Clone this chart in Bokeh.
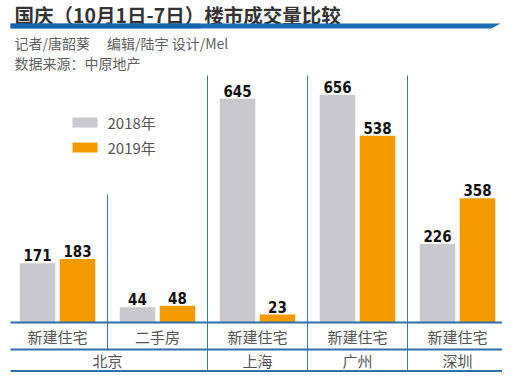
import numpy as np
from bokeh.plotting import figure
from bokeh.models import Range1d, ColumnDataSource
from bokeh.core.properties import value
from bokeh.embed import file_html
from bokeh.resources import INLINE

# ---------------- data ----------------
title = "国庆（10月1日-7日）楼市成交量比较"
credit = "记者/唐韶葵　 编辑/陆宇  设计/Mel"
source_note = "数据来源：中原地产"
cities = ["北京", "北京", "上海", "广州", "深圳"]
types = ["新建住宅", "二手房", "新建住宅", "新建住宅", "新建住宅"]
v2018 = [171, 44, 645, 656, 226]
v2019 = [183, 48, 23, 538, 358]
years = ["2018年", "2019年"]
colors = ["#c9c9cd", "#f39a00"]

# ---------------- layout helpers ----------------
W, H = 502, 372
K = 0.347          # pixels per unit of value
BASE = 322         # canvas y of the value baseline
X0 = 7             # canvas x of category edge 0
UNIT = 100         # pixels per category


def fx(px):
    return (px - X0) / UNIT


def fy(py):
    return (BASE - py) / K


p = figure(width=W, height=H, output_backend="svg", toolbar_location=None,
           x_range=Range1d(fx(0), fx(W)), y_range=Range1d(fy(H), fy(0)),
           min_border=0, min_border_left=0, min_border_right=0,
           min_border_top=0, min_border_bottom=0)
p.axis.visible = False
p.grid.visible = False
p.outline_line_color = None
p.background_fill_color = "white"
p.border_fill_color = "white"

CJK = value("Noto Sans CJK SC")
NUM = value("DejaVu Sans Condensed, Liberation Sans Narrow, DejaVu Sans, sans-serif")

# ---------------- header ----------------
p.text(x=[fx(14)], y=[fy(14)], text=[title], text_font=CJK,
       text_font_size="19.5px", text_font_style="bold", text_color="#333333",
       text_baseline="middle", text_align="left")
p.patch(x=[fx(10), fx(500), fx(491), fx(10)],
        y=[fy(23), fy(23), fy(28), fy(28)],
        fill_color="#1b6db3", line_color=None)
p.patch(x=[fx(10), fx(200), fx(200), fx(10)],
        y=[fy(23), fy(23), fy(28), fy(28)],
        fill_color="#135f9f", fill_alpha=0.6, line_color=None)
p.text(x=[fx(14)], y=[fy(42)], text=[credit], text_font=CJK,
       text_font_size="14px", text_color="#606060",
       text_baseline="middle", text_align="left")
p.text(x=[fx(14)], y=[fy(62)], text=[source_note], text_font=CJK,
       text_font_size="14px", text_color="#606060",
       text_baseline="middle", text_align="left")

# ---------------- legend ----------------
for i, (lab, c) in enumerate(zip(years, colors)):
    cy = 122 + 25 * i
    p.quad(left=[fx(72)], right=[fx(97)], top=[fy(cy - 5)], bottom=[fy(cy + 5)],
           fill_color=c, line_color=None)
    p.text(x=[fx(107)], y=[fy(cy)], text=[lab], text_font=CJK,
           text_font_size="15px", text_color="#555555",
           text_baseline="middle", text_align="left")

# ---------------- bars ----------------
idx = np.arange(len(types)) + 0.5
src = ColumnDataSource(dict(x18=idx - 0.2, x19=idx + 0.2, v18=v2018, v19=v2019,
                            l18=[str(v) for v in v2018], l19=[str(v) for v in v2019],
                            ly18=np.array(v2018) + 2 / K, ly19=np.array(v2019) + 2 / K))
p.vbar(x="x18", top="v18", bottom=0, width=0.355, fill_color=colors[0],
       line_color=None, source=src)
p.vbar(x="x19", top="v19", bottom=0, width=0.355, fill_color=colors[1],
       line_color=None, source=src)
for xs, ys, ls in (("x18", "ly18", "l18"), ("x19", "ly19", "l19")):
    p.text(x=xs, y=ys, text=ls, source=src, text_font=NUM,
           text_font_style="bold", text_font_size="15px", text_color="#111111",
           text_align="center", text_baseline="bottom")

# ---------------- table lines ----------------
LINE = "#2e6fa8"
for py in (322, 349, 370.5):
    p.segment(x0=[fx(10)], x1=[fx(W)], y0=[fy(py)], y1=[fy(py)],
              line_color=LINE, line_width=2)
# vertical dividers
p.segment(x0=[1], x1=[1], y0=[fy(194)], y1=[fy(349)], line_color="#3f76a3", line_width=1)
for e in (2, 3, 4):
    p.segment(x0=[e], x1=[e], y0=[fy(75)], y1=[fy(372)], line_color="#3f76a3", line_width=1)

# category labels
p.text(x=idx, y=[fy(336)] * len(types), text=types, text_font=CJK,
       text_font_size="15px", text_color="#555555",
       text_align="center", text_baseline="middle")

# city labels (centred over their groups)
city_names, city_x = [], []
for c in dict.fromkeys(cities):
    pos = [i for i, cc in enumerate(cities) if cc == c]
    city_names.append(c)
    city_x.append((min(pos) + max(pos) + 1) / 2)
p.text(x=city_x, y=[fy(360)] * len(city_names), text=city_names, text_font=CJK,
       text_font_size="15px", text_color="#555555",
       text_align="center", text_baseline="middle")

open("out.html", "w").write(file_html(p, INLINE))
